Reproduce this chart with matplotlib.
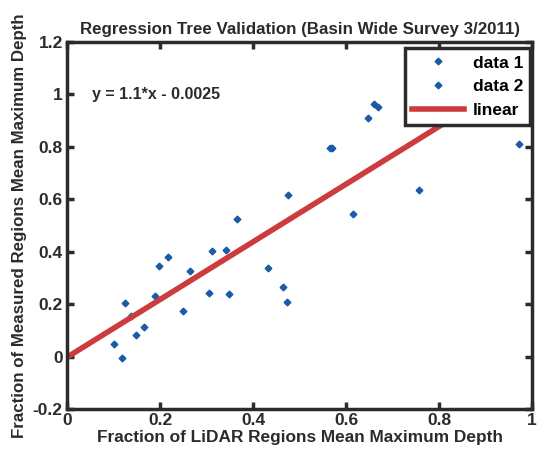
import matplotlib
matplotlib.use("Agg")
import matplotlib.pyplot as plt
import numpy as np

# validation points: LiDAR fraction vs measured fraction
lidar_frac = [0.102, 0.118, 0.125, 0.138, 0.148, 0.166, 0.189, 0.197, 0.218,
              0.249, 0.265, 0.305, 0.312, 0.342, 0.349, 0.365, 0.433, 0.465,
              0.474, 0.475, 0.566, 0.570, 0.614, 0.647, 0.660, 0.669, 0.757,
              0.971]
measured_frac = [0.048, -0.005, 0.206, 0.156, 0.083, 0.112, 0.230, 0.347, 0.379,
                 0.173, 0.326, 0.243, 0.403, 0.407, 0.239, 0.524, 0.337, 0.267,
                 0.210, 0.618, 0.796, 0.796, 0.543, 0.911, 0.964, 0.951, 0.634,
                 0.812]
data2_x = []
data2_y = []

slope = 1.1
intercept = -0.0025
fit_x = np.array([0.0, 1.0])

blue = "#1a5aa6"
red = "#cc3b3d"
dark = "#2b2b2b"

plt.rcParams["font.family"] = ["Liberation Sans", "DejaVu Sans"]
plt.rcParams["font.weight"] = "bold"

fig = plt.figure(figsize=(5.38, 4.55), dpi=100)
ax = fig.add_axes([0.1245, 0.101, 0.8645, 0.807])

ax.plot(lidar_frac, measured_frac, linestyle="none", marker="D", markersize=3.4,
        color=blue, label="data 1")
ax.plot(data2_x, data2_y, linestyle="none", marker="D", markersize=3.4,
        color=blue, label="data 2")
ax.plot(fit_x, slope * fit_x + intercept, color=red, linewidth=4, label="linear")

ax.text(0.054, 1.0, "y = 1.1*x - 0.0025", fontsize=11.5, fontweight="bold",
        va="center", ha="left", color=dark)

ax.set_xlim(0, 1)
ax.set_ylim(-0.2, 1.2)
ax.set_xticks([0, 0.2, 0.4, 0.6, 0.8, 1])
ax.set_xticklabels(["0", "0.2", "0.4", "0.6", "0.8", "1"])
ax.set_yticks([-0.2, 0, 0.2, 0.4, 0.6, 0.8, 1, 1.2])
ax.set_yticklabels(["-0.2", "0", "0.2", "0.4", "0.6", "0.8", "1", "1.2"])
ax.tick_params(direction="in", length=5, width=2.5, color=dark, labelsize=12.5,
               labelcolor=dark, top=True, right=True, pad=3)
for lab in ax.get_xticklabels() + ax.get_yticklabels():
    lab.set_fontweight("bold")
for sp in ax.spines.values():
    sp.set_linewidth(2.5)
    sp.set_color(dark)

ax.set_title("Regression Tree Validation (Basin Wide Survey 3/2011)",
             fontsize=12.2, fontweight="bold", color=dark, pad=6)
ax.set_xlabel("Fraction of LiDAR Regions Mean Maximum Depth", fontsize=12.4,
              fontweight="bold", color=dark, labelpad=1)
ax.set_ylabel("Fraction of Measured Regions Mean Maximum Depth", fontsize=12.2,
              fontweight="bold", color=dark, labelpad=4)

leg = ax.legend(loc="upper right", bbox_to_anchor=(0.996, 0.982), fontsize=12.5,
                frameon=True, fancybox=False, framealpha=1.0, borderaxespad=0.0,
                handlelength=3.0, markerscale=1.0, borderpad=0.4,
                labelspacing=0.5, handletextpad=0.5)
leg.get_frame().set_edgecolor(dark)
leg.get_frame().set_linewidth(2.5)
leg.set_zorder(5)
for t in leg.get_texts():
    t.set_ha("right")

fig.savefig("out.png", dpi=100)
